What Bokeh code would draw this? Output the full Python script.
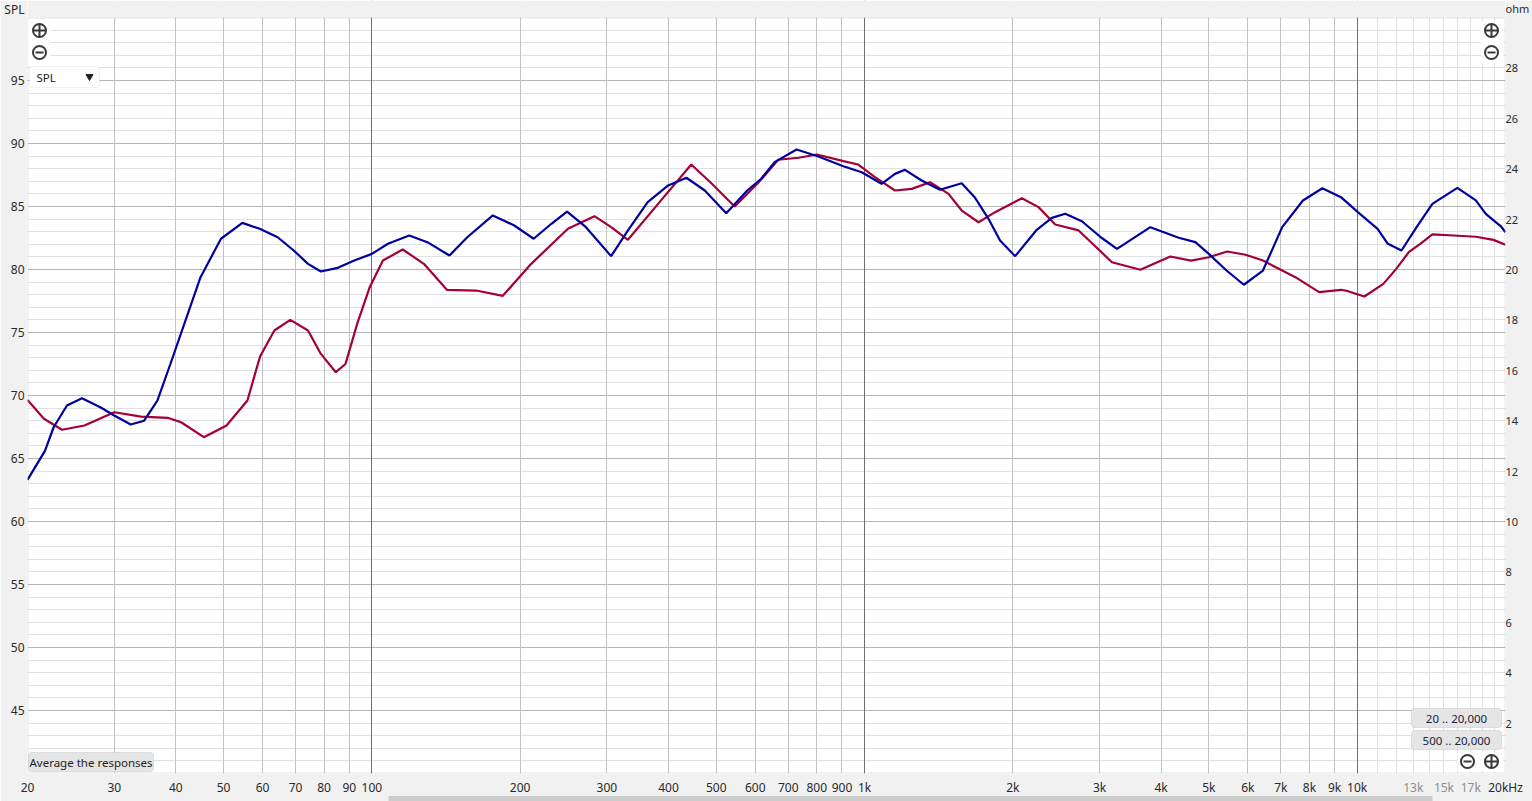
from bokeh.plotting import figure
from bokeh.models import FixedTicker, Grid, LinearAxis, LogAxis, Range1d, Label, BoxAnnotation
from bokeh.embed import file_html
from bokeh.resources import INLINE

FONT = "Noto Sans"

# ---- data ----
freq_blue = [20, 21.7, 22.6, 24.05, 25.8, 28.1, 30, 32.4, 34.5, 36.7, 39.0, 44.9, 49.4, 54.6, 59.2,
             64.4, 69.4, 74.2, 78.8, 85.3, 92.1, 100, 107.8, 119.1, 129.6, 143.7, 156.2, 176, 194.6,
             213, 231.4, 249, 272, 306, 331, 363, 399.5, 435, 474, 524, 578, 617, 657, 728, 806, 906,
             987, 1083, 1153, 1208, 1306, 1423, 1575, 1673, 1785, 1884, 2022, 2230, 2400, 2555, 2762,
             3017, 3254, 3803, 4343, 4694, 4998, 5430, 5887, 6437, 7043, 7760, 8497, 9270, 10030,
             11000, 11540, 12300, 13200, 14210, 15970, 17410, 18240, 19600, 20000]
spl_blue = [63.3, 65.6, 67.48, 69.21, 69.79, 69.07, 68.41, 67.7, 68.0, 69.6, 72.5, 79.39, 82.44, 83.7, 83.23,
            82.56, 81.51, 80.45, 79.84, 80.13, 80.71, 81.24, 82.04, 82.7, 82.17, 81.11, 82.56, 84.29, 83.49,
            82.44, 83.63, 84.6, 83.36, 81.06, 83.1, 85.34, 86.67, 87.28, 86.27, 84.47, 86.27, 87.2, 88.52, 89.52, 88.97, 88.2,
            87.72, 86.8, 87.59, 87.91, 87.06, 86.33, 86.85, 85.74, 84.02, 82.3, 81.06, 83.1, 84.1, 84.42, 83.83,
            82.56, 81.64, 83.36, 82.52, 82.17, 81.24, 79.92, 78.79, 79.92, 83.36, 85.48, 86.45, 85.74, 84.55,
            83.23, 82.04, 81.51, 83.36, 85.21, 86.48, 85.48, 84.42, 83.4, 82.96]

freq_red = [20, 21.6, 23.5, 26.1, 30, 34.0, 38.5, 41.0, 45.6, 50.7, 55.9, 59.3, 63.4, 68.3, 74.2, 78.8,
            84.5, 88.4, 93.4, 99, 105.3, 115.5, 127.5, 142, 162.8, 184.4, 210.6, 250, 283, 306, 331,
            381, 445, 490, 545, 606, 668, 735, 800, 906, 971, 1050, 1153, 1247, 1358, 1481, 1575, 1704,
            1841, 2086, 2255, 2438, 2720, 3178, 3629, 4176, 4600, 4998, 5445, 5935, 6437, 7043, 7490,
            8370, 9270, 9580, 10340, 11300, 12000, 12740, 13430, 14210, 15700, 17410, 18900, 20000]
spl_red = [69.65, 68.15, 67.28, 67.62, 68.67, 68.33, 68.23, 67.88, 66.69, 67.62, 69.6, 73.1, 75.16, 76.0, 75.16, 73.3,
           71.85, 72.5, 75.7, 78.6, 80.71, 81.59, 80.45, 78.39, 78.33, 77.91, 80.45, 83.23, 84.23, 83.36, 82.36,
           85.21, 88.33, 86.8, 85.0, 86.8, 88.71, 88.87, 89.13, 88.6, 88.33, 87.33, 86.27, 86.4, 86.93, 86.0, 84.68, 83.75,
           84.55, 85.66, 84.95, 83.57, 83.1, 80.58, 79.98, 81.03, 80.71, 80.97, 81.43, 81.17, 80.71, 79.92, 79.39,
           78.2, 78.39, 78.28, 77.86, 78.86, 80.05, 81.4, 82.04, 82.78, 82.7, 82.6, 82.35, 81.96]

x_tick_values = [20, 30, 40, 50, 60, 70, 80, 90, 100, 200, 300, 400, 500, 600, 700, 800, 900,
                 1000, 2000, 3000, 4000, 5000, 6000, 7000, 8000, 9000, 10000, 20000]
x_tick_labels = ["20", "30", "40", "50", "60", "70", "80", "90", "100", "200", "300", "400", "500",
                 "600", "700", "800", "900", "1k", "2k", "3k", "4k", "5k", "6k", "7k", "8k", "9k",
                 "10k", "20kHz"]
x_grey_values = [13000, 15000, 17000]
x_grey_labels = ["13k", "15k", "17k"]
spl_ticks = [45, 50, 55, 60, 65, 70, 75, 80, 85, 90, 95]
ohm_ticks = [2, 4, 6, 8, 10, 12, 14, 16, 18, 20, 22, 24, 26, 28]
spl_unit, ohm_unit = "SPL", "ohm"

# ---- layout ----
W, H = 1532, 801
FL, FR, FT, FB = 27, 1505, 17, 773    # plot-area edges in page pixels
LABEL_H = 20                           # height Bokeh reserves for a 12px label line
SPL_MIN, SPL_MAX = 40, 100
OHM_MIN, OHM_MAX = 0, 30
# the frame reaches the page top; the strip above the plot area is painted over
spl_top = SPL_MIN + (SPL_MAX - SPL_MIN) * FB / (FB - FT)
ohm_top = OHM_MIN + (OHM_MAX - OHM_MIN) * FB / (FB - FT)
UNIT_Y = 7                             # page y of the unit captions
spl_unit_pos = SPL_MAX + (SPL_MAX - SPL_MIN) * (FT - UNIT_Y) / (FB - FT)
ohm_unit_pos = OHM_MAX + (OHM_MAX - OHM_MIN) * (FT - UNIT_Y) / (FB - FT)

p = figure(width=W, height=H, x_axis_type="log",
           x_range=Range1d(20, 20000), y_range=Range1d(SPL_MIN, spl_top),
           output_backend="svg", toolbar_location=None,
           min_border_left=FL, min_border_right=W - FR, min_border_top=0, min_border_bottom=H - FB)
p.border_fill_color = "#f1f1f1"
p.background_fill_color = "white"
p.outline_line_color = None
p.grid.visible = False

# conversion from page pixel to data (for UI decorations only)
def dx(px):
    return 20 * 10 ** ((px - FL) / (FR - FL) * 3)
def dy(py):
    return SPL_MAX - (py - FT) / (FB - FT) * (SPL_MAX - SPL_MIN)

# grids
def add_grid(dim, ticks, color):
    g = Grid(dimension=dim, ticker=FixedTicker(ticks=ticks), grid_line_color=color, grid_line_width=1)
    p.add_layout(g)

add_grid(1, [v for v in range(41, 100) if v % 5 != 0], "#e1e1e1")
add_grid(0, [v * 1000 for v in range(11, 20)], "#e1e1e1")
add_grid(1, list(range(45, 100, 5)), "#b6b6b6")
add_grid(0, [30, 40, 50, 60, 70, 80, 90, 200, 300, 400, 500, 600, 700, 800, 900,
             2000, 3000, 4000, 5000, 6000, 7000, 8000, 9000], "#c3c3c3")
add_grid(0, [100, 1000, 10000], "#6f6f6f")

# strip above the plot area and the plot-area outline
p.add_layout(BoxAnnotation(left=20, right=20000, bottom=SPL_MAX, top=spl_top,
                           fill_color="#f1f1f1", fill_alpha=1, line_color=None))
p.add_layout(BoxAnnotation(left=dx(FL + 0.5), right=dx(FR - 0.5), bottom=dy(FB - 0.5), top=dy(FT + 0.5),
                           fill_color=None, line_color="#a9a9a9", line_width=1))

def style_axis(ax, standoff, color="#2a2a2a", size="12px"):
    ax.axis_line_color = None
    ax.major_tick_line_color = None
    ax.minor_tick_line_color = None
    ax.major_tick_out = 0
    ax.major_tick_in = 0
    ax.minor_tick_out = 0
    ax.minor_tick_in = 0
    ax.major_label_text_font = FONT
    ax.major_label_text_font_size = size
    ax.major_label_text_color = color
    ax.major_label_standoff = standoff

# x axis
xa = p.xaxis[0]
xa.ticker = FixedTicker(ticks=x_tick_values)
xa.major_label_overrides = {v: t for v, t in zip(x_tick_values, x_tick_labels)}
style_axis(xa, 5)

# left SPL axis, with its unit name above the plot area
ya = p.yaxis[0]
ya.ticker = FixedTicker(ticks=spl_ticks + [spl_unit_pos])
ya.major_label_overrides = {spl_unit_pos: spl_unit}
style_axis(ya, 3)

# right ohm axis (slightly smaller type so that "ohm" fits the right margin)
p.extra_y_ranges = {"ohm": Range1d(OHM_MIN, ohm_top)}
ra = LinearAxis(y_range_name="ohm", ticker=FixedTicker(ticks=ohm_ticks + [ohm_unit_pos]),
                major_label_overrides={ohm_unit_pos: ohm_unit})
style_axis(ra, 0, size="11px")
p.add_layout(ra, "right")

# grey frequency labels: second bottom axis pulled back onto the first one's row
ga = LogAxis(ticker=FixedTicker(ticks=x_grey_values),
             major_label_overrides={v: t for v, t in zip(x_grey_values, x_grey_labels)})
style_axis(ga, -LABEL_H, color="#8e8e8e")
p.add_layout(ga, "below")

# horizontal scroll bar under the axis (an axis line with no ticks)
sb = LogAxis(ticker=FixedTicker(ticks=[]), bounds=(dx(388), dx(1432)))
style_axis(sb, 0)
sb.axis_line_color = "#cdcdcd"
sb.axis_line_width = 5
p.add_layout(sb, "below")

# curves
p.line(freq_red, spl_red, line_color="#a50036", line_width=2.2)
p.line(freq_blue, spl_blue, line_color="#00009e", line_width=2.2)

# icon backgrounds
for (l, r, t, b) in [(28, 50, 20, 63), (1481, 1503, 20, 63), (1457, 1503, 752, 771)]:
    p.add_layout(BoxAnnotation(left=dx(l), right=dx(r), top=dy(t), bottom=dy(b),
                               fill_color="white", fill_alpha=1, line_color=None))

# buttons
def button(l, r, t, b, text, color="#222222"):
    p.add_layout(BoxAnnotation(left=dx(l), right=dx(r), top=dy(t), bottom=dy(b),
                               fill_color="#e5e5e5", fill_alpha=1, line_color="#adadad",
                               line_width=1, border_radius=3))
    p.add_layout(Label(x=dx((l + r) / 2), y=dy((t + b) / 2 + 0.5), text=text,
                       text_align="center", text_baseline="middle",
                       text_font=FONT, text_font_size="11.5px", text_color=color))

button(28, 153, 752, 771, "Average the responses")
button(1411, 1501, 708, 727, "20 .. 20,000", color="#1c2340")
button(1411, 1501, 730, 749, "500 .. 20,000", color="#1c2340")

# SPL dropdown
p.add_layout(BoxAnnotation(left=dx(29), right=dx(99), top=dy(66), bottom=dy(87),
                           fill_color="white", fill_alpha=1, line_color="#d0d0d0",
                           line_width=1, border_radius=3))
p.add_layout(Label(x=dx(36), y=dy(77), text="SPL", text_align="left", text_baseline="middle",
                   text_font=FONT, text_font_size="11.5px", text_color="#222222"))
p.scatter([dx(89)], [dy(76)], marker="inverted_triangle", size=7,
          fill_color="#222222", line_color="#222222", level="overlay")

# zoom icons
plus_x = [dx(39), dx(1491), dx(1491)]
plus_y = [dy(30), dy(30), dy(761)]
minus_x = [dx(39), dx(1491), dx(1467)]
minus_y = [dy(52), dy(52), dy(761)]
p.scatter(plus_x, plus_y, marker="circle_cross", size=13, line_color="#3a3a3a",
          line_width=2, fill_color="white", level="overlay")
p.scatter(minus_x, minus_y, marker="circle", size=13, line_color="#3a3a3a",
          line_width=2, fill_color="white", level="overlay")
p.scatter(minus_x, minus_y, marker="dash", size=8, line_color="#3a3a3a", line_width=2,
          level="overlay")

open("out.html", "w").write(file_html(p, INLINE))
